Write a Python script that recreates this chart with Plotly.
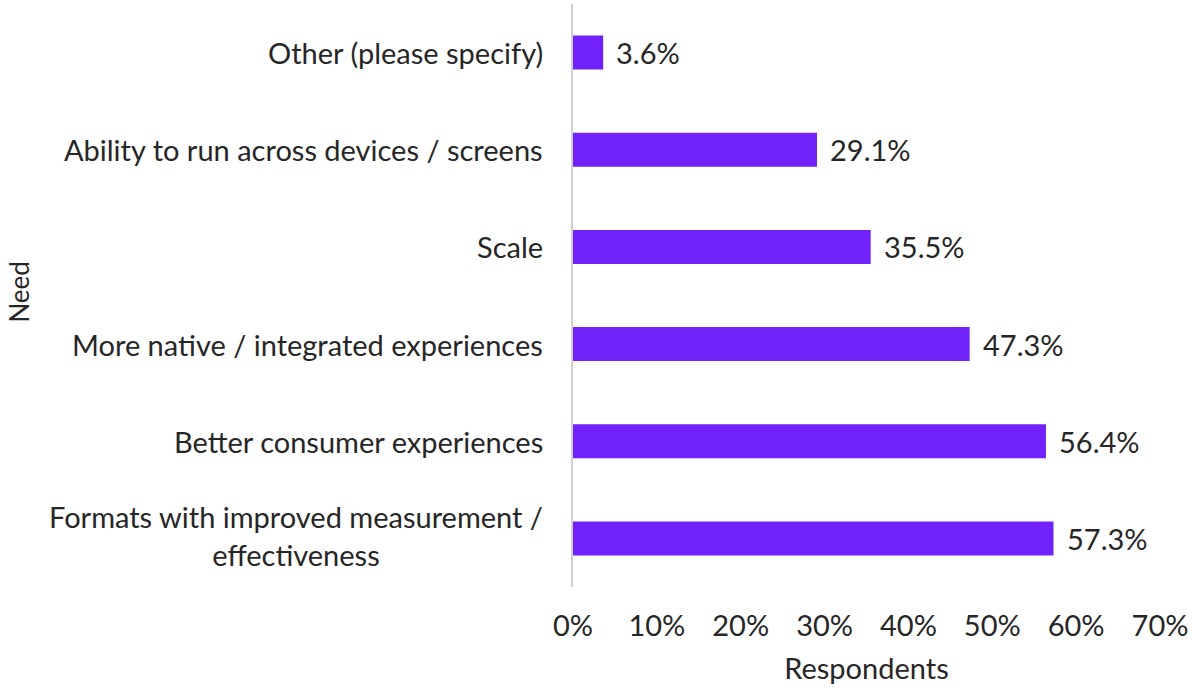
import plotly.graph_objects as go

categories = [
    "Other (please specify)",
    "Ability to run across devices / screens",
    "Scale",
    "More native / integrated experiences",
    "Better consumer experiences",
    "Formats with improved measurement /<br>effectiveness",
]
values = [3.6, 29.1, 35.5, 47.3, 56.4, 57.3]
tick_vals = [0, 10, 20, 30, 40, 50, 60, 70]
tick_text = ["0%", "10%", "20%", "30%", "40%", "50%", "60%", "70%"]

FONT = "Lato, 'Open Sans', sans-serif"
TXT = "#262626"
FS = 29

fig = go.Figure()
fig.add_trace(go.Bar(
    x=values, y=categories, orientation="h",
    marker=dict(color="#7122FB", line=dict(width=0)),
    hoverinfo="x+y",
))

annotations = []
for c, v in zip(categories, values):
    annotations.append(dict(
        x=v, y=c, xref="x", yref="y", text=f"{v:.1f}%",
        xanchor="left", yanchor="middle", xshift=11, showarrow=False,
        font=dict(family=FONT, size=FS, color=TXT),
    ))
    annotations.append(dict(
        x=0, y=c, xref="paper", yref="y", text=c, align="center",
        xanchor="right", yanchor="middle", xshift=-28,
        yshift=3 if "<br>" in c else 0, showarrow=False,
        font=dict(family=FONT, size=FS, color=TXT),
    ))
annotations.append(dict(
    x=(19 - 573) / 587, y=0.505, xref="paper", yref="paper", text="Need",
    textangle=-90, xanchor="center", yanchor="middle", showarrow=False,
    font=dict(family=FONT, size=26, color=TXT),
))

fig.update_layout(
    width=1192, height=690,
    margin=dict(l=573, r=32, t=4, b=103),
    paper_bgcolor="white", plot_bgcolor="white",
    bargap=0.65,
    showlegend=False,
    annotations=annotations,
    font=dict(family=FONT, size=FS, color=TXT),
    xaxis=dict(
        range=[0, 70], tickvals=tick_vals, ticktext=tick_text,
        showgrid=False, zeroline=False, showline=False,
        ticks="", ticklabelstandoff=19,
        tickfont=dict(family=FONT, size=FS, color=TXT),
        title=dict(text="Respondents", standoff=17,
                   font=dict(family=FONT, size=FS, color=TXT)),
    ),
    yaxis=dict(
        autorange="reversed", showticklabels=False, showgrid=False,
        zeroline=False, showline=True, linecolor="#d0d0d0", linewidth=2,
        ticks="",
    ),
)

fig.write_html("out.html", config={"displayModeBar": False},
               post_script="document.body.style.margin='0';")
